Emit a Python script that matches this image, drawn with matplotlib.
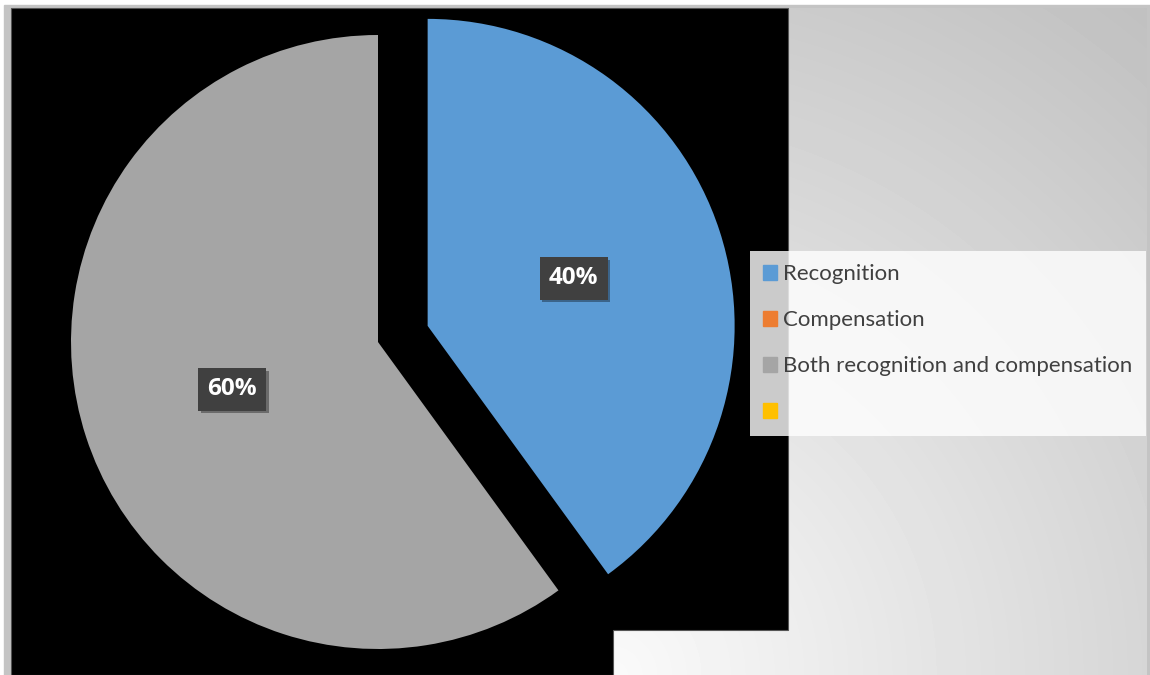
import matplotlib
matplotlib.use("Agg")
import matplotlib.pyplot as plt
import matplotlib.patches as mpatches
import matplotlib.patheffects as pe
import numpy as np

# datos del grafico
categorias = ["Recognition", "Compensation", "Both recognition and compensation", " "]
valores = [40, 0, 60, 0]
colores = ["#5B9BD5", "#ED7D31", "#A5A5A5", "#FFC000"]
separacion = [0.17, 0, 0, 0]

W, H = 1150, 675
fig = plt.figure(figsize=(W / 100, H / 100), dpi=100, facecolor="white")

# fondo en coordenadas de pixel
fondo = fig.add_axes([0, 0, 1, 1])
fondo.set_xlim(0, W)
fondo.set_ylim(H, 0)
fondo.axis("off")

# marco gris y degradado radial claro
fondo.add_patch(mpatches.Rectangle((4, 5), W - 4, H - 5, color="#c4c4c4", zorder=0))
yy, xx = np.mgrid[8:H, 11:W - 3]
dist = np.hypot(xx - 613, yy - 675)
gris = np.clip(250 - 58 * dist / 856, 190, 250) / 255
fondo.imshow(gris, cmap="gray", vmin=0, vmax=1, extent=(11, W - 3, H, 8),
             interpolation="bilinear", zorder=1, aspect="auto")

# zona negra detras del grafico
negro = [(11, 8), (788, 8), (788, 630), (613, 630), (613, H), (11, H)]
fondo.add_patch(mpatches.Polygon(negro, closed=True, fc="black", ec="#555555", lw=0.8, zorder=2))

# pastel: centro en (378, 342) px, radio 307 px
R = 307
cx, cy = 378, 342
ax = fig.add_axes([0, 0, 2 * cx / W, 1])
ax.set_facecolor("none")


def porcentaje(p):
    return "%d%%" % round(p) if p > 0.5 else ""


wedges, textos, autotextos = ax.pie(valores, colors=colores, explode=separacion,
                                    startangle=90, counterclock=False,
                                    autopct=porcentaje, pctdistance=0.5,
                                    wedgeprops=dict(linewidth=0))
ax.set_xlim(-cx / R, cx / R)
ax.set_ylim(-(H - cy) / R, cy / R)
ax.set_aspect("auto")
ax.axis("off")

for t in autotextos:
    if t.get_text() == "":
        continue
    t.set_color("white")
    t.set_fontsize(17.5)
    t.set_fontweight("bold")
    t.set_fontfamily("Open Sans")
    t.set_bbox(dict(boxstyle="square,pad=0.38", fc="#404040", ec="none"))
    t.get_bbox_patch().set_path_effects([
        pe.SimplePatchShadow(offset=(2, -2), shadow_rgbFace="black", alpha=0.35),
        pe.Normal()])

# leyenda
parches = [mpatches.Patch(color=c, label=l) for c, l in zip(colores, categorias)]
leg = fondo.legend(handles=parches, loc="upper left", bbox_to_anchor=(750, 251),
                   bbox_transform=fondo.transData, borderaxespad=0,
                   prop={"family": "Lato", "size": 16}, labelcolor="#404040",
                   handlelength=0.63, handleheight=0.63, handletextpad=0.27,
                   labelspacing=1.17, borderpad=0.6, frameon=True, fancybox=False)
leg.get_frame().set_facecolor((1, 1, 1, 0.35))
leg.get_frame().set_edgecolor("none")
leg.set_zorder(5)

fig.savefig("out.png", dpi=100, facecolor="white")
